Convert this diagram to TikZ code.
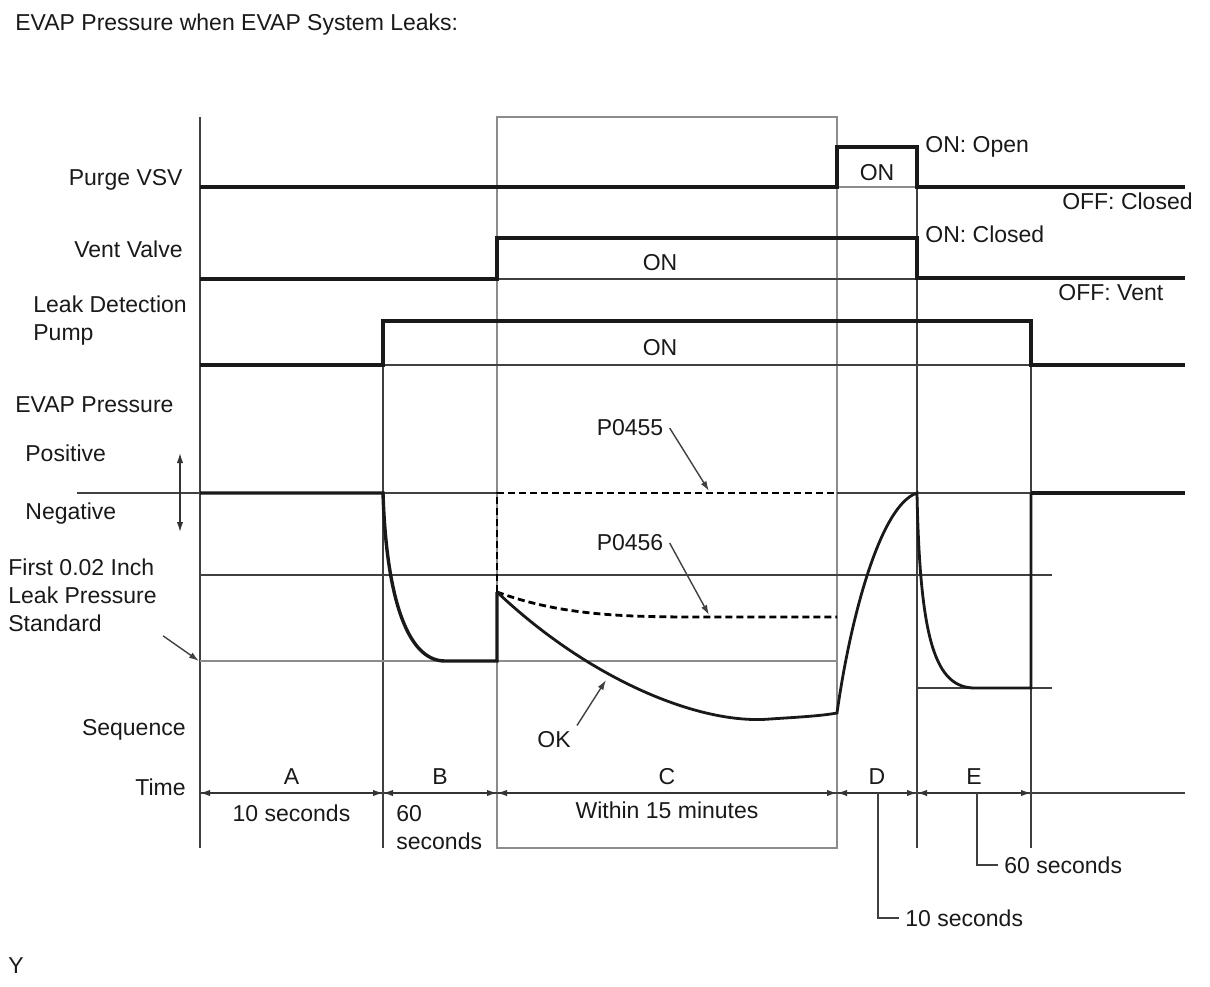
\documentclass[tikz,border=0pt]{standalone}
\usepackage{fontspec}
\setmainfont{Liberation Sans}
\usetikzlibrary{arrows.meta,positioning}

\begin{document}
\begin{tikzpicture}[x=0.5pt, y=-0.5pt, font=\fontsize{11.5}{14}\selectfont,
  sig/.style={line width=1.7pt, black!90},
  thin/.style={line width=0.7pt, black!75},
  grid/.style={line width=0.7pt, black!45},
  dsh/.style={line width=1.4pt, black, dash pattern=on 3.5pt off 2pt},
  tip/.style={-{Latex[length=5pt,width=3.2pt]}},
  dim/.style={{Latex[length=5pt,width=3.2pt]}-{Latex[length=5pt,width=3.2pt]}, line width=0.7pt, black!80},
  lbl/.style={inner sep=0pt, text=black!90},
  lead/.style={inner sep=3pt, text=black!90}]

  \useasboundingbox (0,0) rectangle (1210,986);

  % texts on the left
  \node[lbl, anchor=mid west] (title) at (15,25) {EVAP Pressure when EVAP System Leaks:};
  \node[lbl, anchor=mid west] (ycode) at (8,968) {Y};
  \node[lbl, anchor=mid east] (purge) at (183,180) {Purge VSV};
  \node[lbl, anchor=mid east] (vent) at (183,252) {Vent Valve};
  \node[lbl, anchor=west, align=left] (pump) at (33,321) {Leak Detection\\Pump};
  \node[lbl, anchor=mid west] (evap) at (15,407) {EVAP Pressure};
  \node[lbl, anchor=mid west] (pos) at (25,456) {Positive};
  \node[lbl, anchor=mid west] (neg) at (25,514) {Negative};
  \node[lbl, anchor=west, align=left] (std) at (8,595) {First 0.02 Inch\\Leak Pressure\\Standard};
  \node[lbl, anchor=mid east] (seq) at (186,730) {Sequence};
  \node[lbl, anchor=mid east] (time) at (186,790) {Time};

  % frame
  \draw[grid] (497,117) rectangle (837,848);
  \draw[thin, line width=0.9pt] (200,117) -- (200,848);
  \draw[thin] (383,321) -- (383,848);
  \draw[thin] (917,147) -- (917,848);
  \draw[thin] (1031,321) -- (1031,848);

  % valves and pump
  \draw[grid] (837,187) -- (917,187);
  \draw[thin] (497,279) -- (917,279);
  \draw[thin] (383,365) -- (1031,365);
  \draw[sig] (200,187) -| (837,147) -| (917,187) -- (1185,187);
  \draw[sig] (200,279) -| (497,238) -| (917,278) -- (1185,278);
  \draw[sig] (200,365) -| (383,321) -| (1031,365) -- (1185,365);
  \node[lbl] (on1) at (877,173) {ON};
  \node[lbl] (on2) at (660,263) {ON};
  \node[lbl] (on3) at (660,348) {ON};
  \node[lbl, anchor=mid west] (onopen) at (925,147) {ON: Open};
  \node[lbl, anchor=mid east] (offclosed) at (1193,204) {OFF: Closed};
  \node[lbl, anchor=mid west] (onclosed) at (925,237) {ON: Closed};
  \node[lbl, anchor=mid west] (offvent) at (1058,295) {OFF: Vent};

  % pressure
  \draw[thin] (77,493) -- (497,493) (837,493) -- (1031,493);
  \draw[thin] (200,575) -- (1052,575);
  \draw[grid] (200,661) -- (837,661);
  \draw[thin] (917,688) -- (1052,688);
  \draw[dim] (180,453) -- (180,532);
  \draw[sig] (200,493) -- (383,493) .. controls (386,590) and (405,661) .. (445,661)
    -- (497,661) -- (497,592);
  \draw[dsh] (497,592) -- (497,493) -- (837,493);
  \draw[dsh] (497,592) .. controls (560,615) and (620,617) .. (700,617) -- (837,617);
  \draw[sig, line width=1.4pt] (497,592) .. controls (590,680) and (700,725) .. (770,719)
    .. controls (800,717) and (820,716) .. (837,713)
    .. controls (850,620) and (880,505) .. (917,493)
    .. controls (920,640) and (935,688) .. (975,688) -- (1031,688) -- (1031,493);
  \draw[sig] (1031,493) -- (1185,493);

  % callouts
  \node[lead] (p55) at (630,428) {P0455};
  \node[lead] (p56) at (630,543) {P0456};
  \node[lead] (ok) at (554,740) {OK};
  \coordinate (p55tip) at (709,491);
  \coordinate (p56tip) at (709,615);
  \coordinate (oktip) at (606,680);
  \coordinate (stdtip) at (199,661);
  \draw[thin, tip] (p55.east) -- (p55tip);
  \draw[thin, tip] (p56.east) -- (p56tip);
  \draw[thin, tip] (ok.north east) -- (oktip);
  \draw[thin, tip] ([shift={(6,4)}]std.south east) -- (stdtip);

  % time axis
  \coordinate (t0) at (200,793);
  \coordinate (t1) at (383,793);
  \coordinate (t2) at (497,793);
  \coordinate (t3) at (837,793);
  \coordinate (t4) at (917,793);
  \coordinate (t5) at (1031,793);
  \coordinate (tend) at (1185,793);
  \draw[thin] (t0) -- (tend);
  \path[dim]
    (t0) edge node[lbl, above=4pt] {A} node[lbl, below=5.5pt] {10 seconds} (t1)
    (t1) edge node[lbl, above=4pt] {B} (t2)
    (t2) edge node[lbl, above=4pt] {C} node[lbl, below=4pt] {Within 15 minutes} (t3)
    (t3) edge node[lbl, above=4pt] {D} (t4)
    (t4) edge node[lbl, above=4pt] {E} (t5);
  \node[lbl, anchor=west, align=left] (bsec) at (396,828) {60\\seconds};
  \coordinate (dmid) at (878,793);
  \coordinate (emid) at (977,793);
  \node[lead, anchor=west] (dsec) at (899,918) {10 seconds};
  \node[lead, anchor=west] (esec) at (998,865) {60 seconds};
  \draw[thin] (dmid) |- (dsec.west);
  \draw[thin] (emid) |- (esec.west);
\end{tikzpicture}
\end{document}
